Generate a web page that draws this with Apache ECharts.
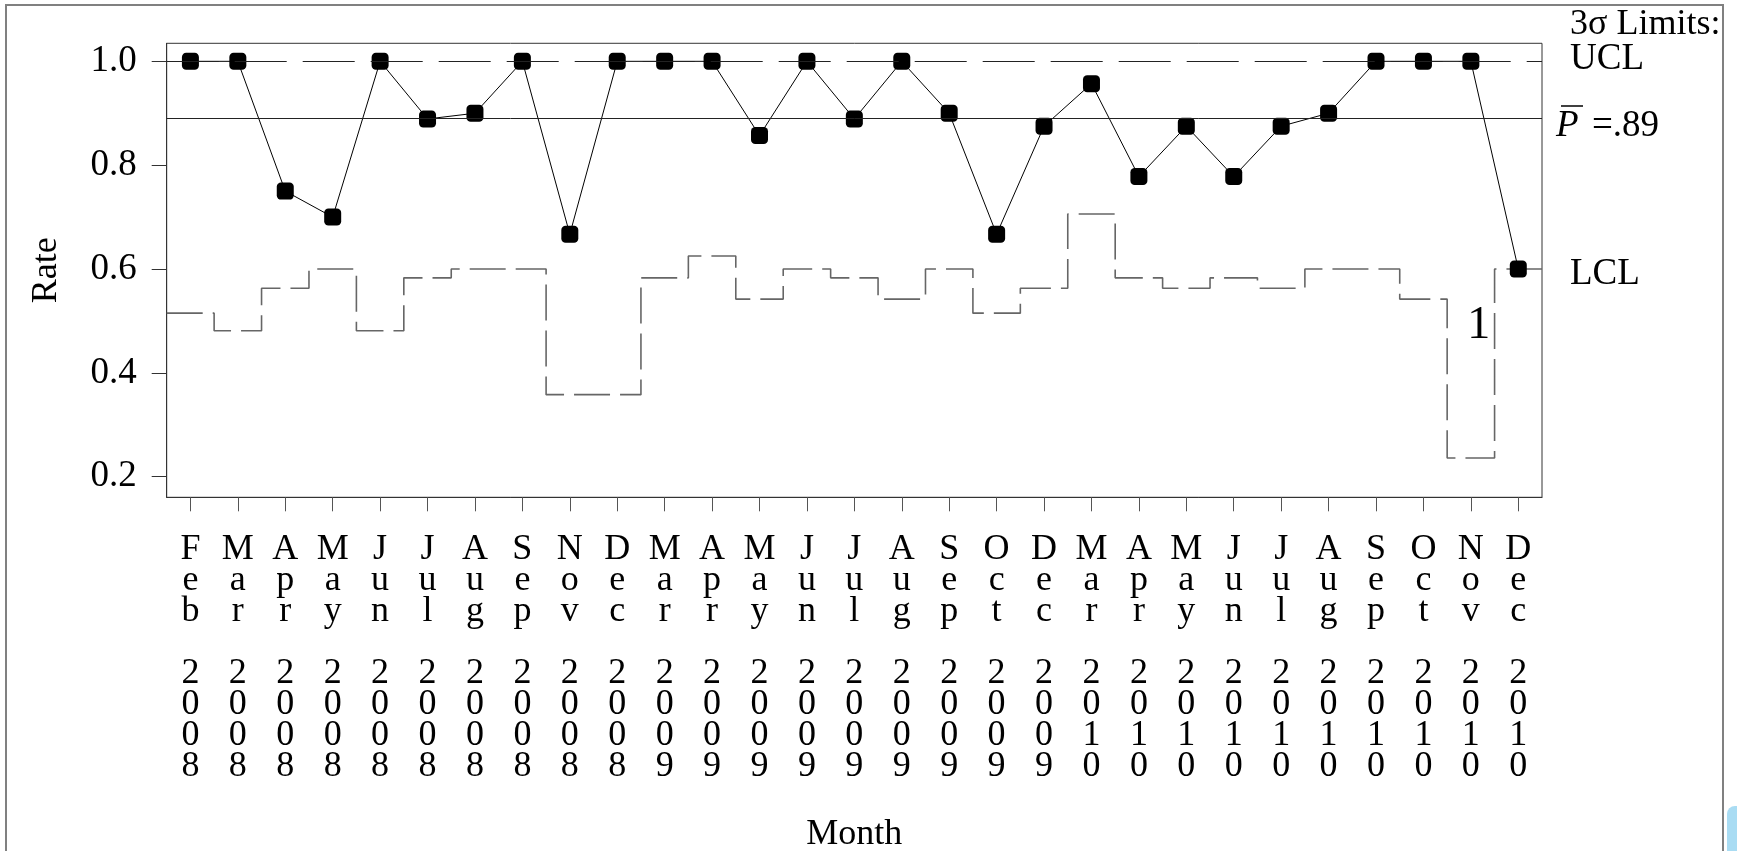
<!DOCTYPE html>
<html>
<head>
<meta charset="utf-8">
<script src="https://cdn.jsdelivr.net/npm/echarts@6/dist/echarts.min.js"></script>
<style>
html,body{margin:0;padding:0;background:#fff;}
#c{width:1737px;height:851px;}
</style>
</head>
<body>
<div id="c"></div>
<script>
// ---- data ----
const months = ['Feb','Mar','Apr','May','Jun','Jul','Aug','Sep','Nov','Dec',
                'Mar','Apr','May','Jun','Jul','Aug','Sep','Oct','Dec',
                'Mar','Apr','May','Jun','Jul','Aug','Sep','Oct','Nov','Dec'];
const years = ['2008','2008','2008','2008','2008','2008','2008','2008','2008','2008',
               '2009','2009','2009','2009','2009','2009','2009','2009','2009',
               '2010','2010','2010','2010','2010','2010','2010','2010','2010','2010'];
const rate = [1.0,1.0,0.75,0.70,1.0,0.889,0.90,1.0,0.667,1.0,
              1.0,1.0,0.857,1.0,0.889,1.0,0.90,0.667,0.875,
              0.957,0.778,0.875,0.778,0.875,0.90,1.0,1.0,1.0,0.60];
const lcl = [0.515,0.481,0.563,0.600,0.481,0.583,0.600,0.600,0.358,0.358,
             0.583,0.625,0.542,0.600,0.583,0.542,0.600,0.515,0.563,
             0.706,0.583,0.563,0.583,0.563,0.600,0.600,0.542,0.236,0.600];
const ucl = 1.0;
const pBar = 0.89;
const yTicks = [0.2,0.4,0.6,0.8,1.0];
const flagIndex = 27;      // test-failure label "1"
const flagValue = 0.494;

// ---- derived ----
const categories = months.map((m,i)=> m.split('').join('\n') + '\n\n' + years[i].split('').join('\n'));
const lclStep = lcl.map((v,i)=>[i-0.5, v]);
lclStep.push([lcl.length-0.5, lcl[lcl.length-1]]);

const FF = '"Liberation Serif","Times New Roman",serif';
const chart = echarts.init(document.getElementById('c'), null, {renderer:'canvas'});
chart.setOption({
  animation:false,
  backgroundColor:'#fff',
  grid:{left:166.7, top:43.3, right:195, bottom:353.7, show:true, borderColor:'#333', borderWidth:1, containLabel:false, outerBoundsMode:'none'},
  xAxis:[{
    type:'category', data:categories, boundaryGap:true, position:'bottom',
    axisLine:{show:true, onZero:false, lineStyle:{color:'#333', width:1}},
    axisTick:{show:true, alignWithLabel:true, length:14, interval:0, lineStyle:{color:'#555', width:1}},
    axisLabel:{interval:0, margin:37, fontFamily:FF, fontSize:36, lineHeight:31, color:'#000', align:'center', verticalAlign:'top'},
    splitLine:{show:false},
    name:'Month', nameLocation:'middle', nameGap:319,
    nameTextStyle:{fontFamily:FF, fontSize:36, color:'#000', lineHeight:36}
  },{
    type:'value', min:-0.5, max:lcl.length-0.5, show:false, position:'bottom',
    axisLine:{onZero:false}
  }],
  yAxis:{
    type:'value', min:0.1603, max:1.0347,
    axisLine:{show:true, onZero:false, lineStyle:{color:'#333', width:1}},
    axisTick:{show:true, length:15, customValues:yTicks, lineStyle:{color:'#333', width:1}},
    axisLabel:{margin:30, customValues:yTicks, fontFamily:FF, fontSize:37, color:'#000', formatter:v=>v.toFixed(1)},
    splitLine:{show:false},
    name:'Rate', nameLocation:'middle', nameRotate:90, nameGap:102,
    nameTextStyle:{fontFamily:FF, fontSize:36, color:'#000', lineHeight:36}
  },
  series:[{
    type:'line', xAxisIndex:1, data:lclStep, step:'end', symbol:'none',
    lineStyle:{color:'#666', width:1.6, type:[36,10]}, silent:true, z:1
  },{
    type:'line', xAxisIndex:0, data:rate, symbol:'roundRect', symbolSize:17,
    itemStyle:{color:'#000'}, lineStyle:{color:'#000', width:1}, z:3,
    markLine:{silent:true, symbol:'none', label:{show:false}, animation:false,
      data:[
        {yAxis:ucl, lineStyle:{type:[52,16], color:'#222', width:1.2}},
        {yAxis:pBar, lineStyle:{type:'solid', color:'#222', width:1}}
      ]},
    markPoint:{silent:true, symbol:'circle', symbolSize:1, itemStyle:{color:'rgba(0,0,0,0)'},
      label:{show:true, formatter:'1', position:'inside', offset:[8,2], fontFamily:FF, fontSize:46, color:'#000'},
      data:[{coord:[flagIndex, flagValue]}]}
  }],
  graphic:[
    {type:'rect', shape:{x:6, y:5, width:1717, height:900}, style:{fill:'none', stroke:'#808080', lineWidth:2}, silent:true},
    {type:'rect', shape:{x:1727, y:806, width:14, height:50, r:[8,0,0,0]}, style:{fill:'#a9dcf3'}, silent:true},
    {type:'text', x:1570, y:25, style:{text:'3σ Limits:', font:'36px '+FF, fill:'#000', verticalAlign:'middle', align:'left'}},
    {type:'text', x:1570, y:59, style:{text:'UCL', font:'37px '+FF, fill:'#000', verticalAlign:'middle', align:'left'}},
    {type:'text', x:1556, y:126, style:{text:'P', font:'italic 37px '+FF, fill:'#000', verticalAlign:'middle', align:'left'}},
    {type:'line', shape:{x1:1561, y1:106, x2:1583, y2:106}, style:{stroke:'#000', lineWidth:1.5}},
    {type:'text', x:1592, y:126, style:{text:'=.89', font:'37px '+FF, fill:'#000', verticalAlign:'middle', align:'left'}},
    {type:'text', x:1570, y:274, style:{text:'LCL', font:'37px '+FF, fill:'#000', verticalAlign:'middle', align:'left'}}
  ]
});
</script>
</body>
</html>
